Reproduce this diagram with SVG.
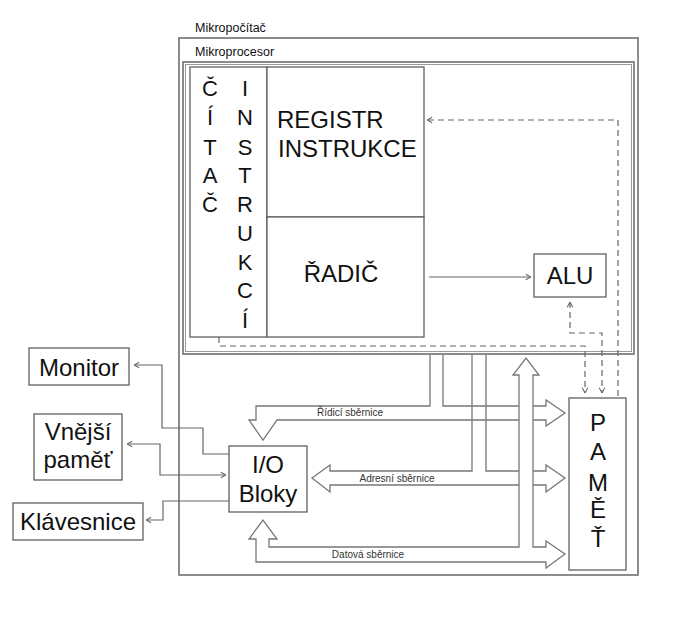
<svg xmlns="http://www.w3.org/2000/svg" width="685" height="634" viewBox="0 0 685 634">
<style>
.box{fill:#fff;stroke:#606060;stroke-width:1.3}
.frame{fill:none;stroke:#707070;stroke-width:1.6}
.frame2{fill:none;stroke:#9a9a9a;stroke-width:1}
.t{font-family:"Liberation Sans",Arial,sans-serif;fill:#111}
.big{font-size:24px}
.col{font-size:22px;text-anchor:middle}
.lbl{font-size:12.5px}
.bl{font-size:10px;text-anchor:middle;fill:#333}
.ln{fill:none;stroke:#666;stroke-width:1.2}
.bus{fill:none;stroke:#777;stroke-width:1.3}
.dash{fill:none;stroke:#666;stroke-width:1.2;stroke-dasharray:6 4}
.mid{text-anchor:middle}
</style>
<defs>
<marker id="ah" viewBox="0 0 10 10" refX="9.5" refY="5" markerWidth="8" markerHeight="8" markerUnits="userSpaceOnUse" orient="auto-start-reverse">
<path d="M3,1.5 L9.5,5 L3,8.5" fill="none" stroke="#666" stroke-width="1.3"/>
</marker>
</defs>

<g id="mikropocitac">
<rect class="frame" x="179" y="38" width="459" height="537"/>
<text class="t lbl" x="195" y="32">Mikropočítač</text>
</g>

<g id="mikroprocesor">
<rect class="frame" x="183" y="62" width="451" height="292"/>
<rect class="frame2" x="185.5" y="64.5" width="446" height="287"/>
<text class="t lbl" x="195" y="56">Mikroprocesor</text>
</g>

<g id="citac">
<rect class="box" x="190" y="67" width="77" height="270"/>
<text class="t col" x="210" y="96">Č</text>
<text class="t col" x="210" y="125">Í</text>
<text class="t col" x="210" y="155">T</text>
<text class="t col" x="210" y="183">A</text>
<text class="t col" x="210" y="212">Č</text>
<text class="t col" x="245" y="96">I</text>
<text class="t col" x="245" y="125">N</text>
<text class="t col" x="245" y="155">S</text>
<text class="t col" x="245" y="183">T</text>
<text class="t col" x="245" y="212">R</text>
<text class="t col" x="245" y="241">U</text>
<text class="t col" x="245" y="270">K</text>
<text class="t col" x="245" y="298">C</text>
<text class="t col" x="245" y="328">Í</text>
</g>

<g id="registr">
<rect class="box" x="267" y="67" width="157" height="150"/>
<text class="t big" x="277" y="128">REGISTR</text>
<text class="t big" x="278" y="157">INSTRUKCE</text>
</g>

<g id="radic">
<rect class="box" x="267" y="217" width="157" height="120"/>
<text class="t big mid" x="341" y="282">ŘADIČ</text>
</g>

<g id="alu">
<rect class="box" x="534" y="254" width="72" height="43"/>
<text class="t big mid" x="570" y="284">ALU</text>
</g>

<g id="pamet">
<rect class="box" x="569" y="398" width="57" height="172"/>
<text class="t big mid" x="598" y="431">P</text>
<text class="t big mid" x="598" y="460">A</text>
<text class="t big mid" x="598" y="491">M</text>
<text class="t big mid" x="598" y="518">Ě</text>
<text class="t big mid" x="598" y="547">Ť</text>
</g>

<g id="io">
<rect class="box" x="229" y="446" width="78" height="66"/>
<text class="t big mid" x="268" y="473">I/O</text>
<text class="t big mid" x="268" y="502">Bloky</text>
</g>

<g id="monitor">
<rect class="box" x="29" y="348" width="100" height="37"/>
<text class="t big mid" x="79" y="376">Monitor</text>
</g>

<g id="vnejsi">
<rect class="box" x="34" y="414" width="88" height="66"/>
<text class="t big mid" x="78" y="440">Vnější</text>
<text class="t big mid" x="78" y="468">paměť</text>
</g>

<g id="klavesnice">
<rect class="box" x="13" y="503" width="130" height="37"/>
<text class="t big mid" x="78" y="530">Klávesnice</text>
</g>

<g id="connectors">
<path class="ln" d="M429,277 H531" marker-end="url(#ah)"/>
<path class="dash" d="M618,396 V120 H427" marker-end="url(#ah)"/>
<path class="dash" d="M219,337 V346 H585 V393" marker-end="url(#ah)"/>
<path class="dash" d="M570,302 V333 H602 V393" marker-start="url(#ah)" marker-end="url(#ah)"/>
<path class="ln" d="M229,454 H203 V428 H162 V365 H134" marker-end="url(#ah)"/>
<path class="ln" d="M127,444 H160 V475 H226" marker-start="url(#ah)" marker-end="url(#ah)"/>
<path class="ln" d="M229,501 H163 V520 H146" marker-end="url(#ah)"/>

<path class="bus" d="M430,355 V406 H256 V420 H249 L263,440 L277,420 H519"/>
<path class="bus" d="M443,355 V406 H519"/>
<path class="bus" d="M533,406 H546 V400 L565,413 L546,426 V420 H533"/>

<path class="bus" d="M472,355 V471 H330 V465 L312,478 L330,492 V485 H519"/>
<path class="bus" d="M486,355 V471 H519"/>
<path class="bus" d="M533,471 H546 V465 L565,478 L546,492 V485 H533"/>

<path class="bus" d="M269,547 V539 H277 L263,520 L249,539 H256 V562 H546 V568 L565,554 L546,541 V547 H533 V375 H539 L526,358 L513,375 H519 V547 Z"/>

<text class="t bl" x="350" y="416">Řídicí sběrnice</text>
<text class="t bl" x="397" y="482">Adresní sběrnice</text>
<text class="t bl" x="368" y="558">Datová sběrnice</text>
</g>
</svg>
